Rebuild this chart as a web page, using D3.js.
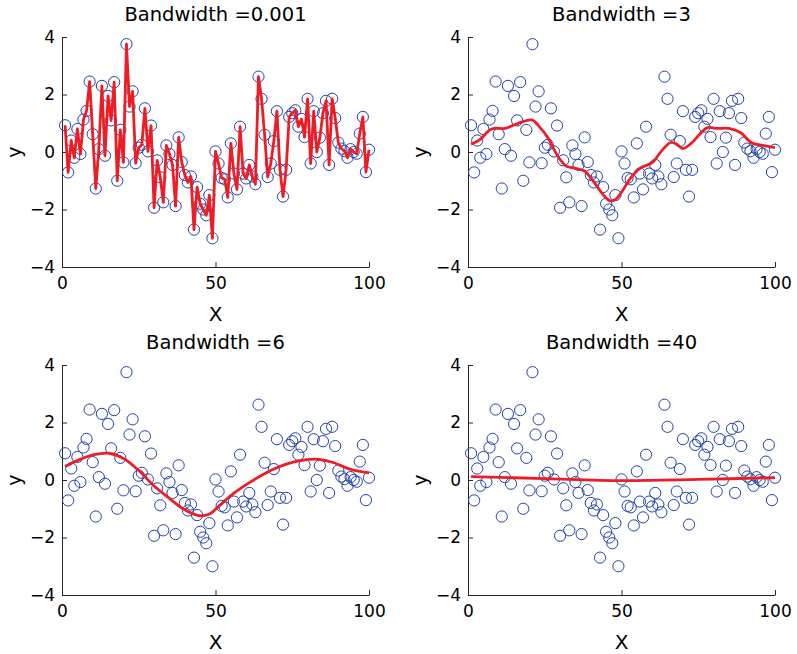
<!DOCTYPE html>
<html>
<head>
<meta charset="utf-8">
<script src="https://cdn.jsdelivr.net/npm/d3@7"></script>
<style>
  html, body { margin: 0; padding: 0; background: #fff; }
  svg { display: block; font-family: "DejaVu Sans", "Open Sans", sans-serif; }
</style>
</head>
<body>
<svg id="chart" width="797" height="654"></svg>
<script>
// ---- Data ----
const titles = ["Bandwidth =0.001", "Bandwidth =3", "Bandwidth =6", "Bandwidth =40"];
const xTicks = [0, 50, 100];
const yTicks = [-4, -2, 0, 2, 4];

// observations at x = 1..100
const yValues = [
  0.93, -0.71, 0.40, -0.20, 0.80, -0.07, 1.13, 1.43, 2.45, 0.62,
  -1.27, 0.10, 2.30, -0.13, 1.95, 1.10, 2.43, -1.00, 0.77, -0.36,
  3.75, 1.58, 2.11, -0.39, 0.15, 0.25, 1.52, 0.02, 0.92, -1.94,
  -0.29, -0.88, -1.75, 0.23, -0.07, -0.45, -1.88, 0.51, -0.35, -0.80,
  -1.06, -0.85, -2.70, -1.22, -1.80, -2.00, -2.20, -1.50, -3.00, 0.02,
  -0.40, -0.90, -0.95, -1.58, 0.30, -0.75, -1.30, 0.88, -0.75, -0.92,
  -0.45, -0.85, -1.12, 2.62, 1.85, 0.60, -0.87, -0.40, 0.38, 1.42,
  -0.62, -1.55, -0.62, 1.22, 1.35, 1.45, 0.88, 1.15, 0.52, 1.85,
  -0.40, 1.42, 0.00, 0.50, 1.35, 1.78, -0.45, 1.85, 1.18, 0.33,
  0.12, 0.03, -0.20, 0.10, 0.00, -0.06, 0.64, 1.22, -0.70, 0.08
];

// smoothed curves
const bw3X = [1, 4, 7, 9, 12, 15, 18, 21, 23, 26, 28, 30, 32, 35, 38, 40, 42, 44, 46, 48, 50, 53, 56, 60, 63, 66, 68, 70, 73, 76, 78, 81, 85, 89, 91, 93, 96, 100];
const bw3Y = [0.27, 0.44, 0.76, 0.83, 0.82, 0.94, 1.06, 1.11, 0.91, 0.50, 0.09, -0.26, -0.49, -0.57, -0.66, -0.90, -1.19, -1.48, -1.69, -1.65, -1.40, -0.90, -0.57, -0.37, 0.03, 0.33, 0.27, 0.12, 0.33, 0.68, 0.85, 0.82, 0.82, 0.66, 0.44, 0.29, 0.23, 0.15];

const bw6X = [1, 5.5, 10.4, 15.3, 20.2, 25.1, 30, 34.9, 39.7, 44.6, 47.9, 51.1, 56, 60.9, 65.8, 70.7, 75.6, 80.5, 83.7, 88.6, 93.5, 100];
const bw6Y = [0.47, 0.70, 0.88, 0.93, 0.74, 0.32, -0.21, -0.63, -1.02, -1.24, -1.19, -0.91, -0.46, -0.10, 0.21, 0.46, 0.63, 0.72, 0.72, 0.60, 0.39, 0.25];

const bw40X = [1, 25, 50, 75, 100];
const bw40Y = [0.12, 0.05, -0.02, 0.02, 0.08];

// ---- Drawing ----
const svg = d3.select("#chart");
const points = yValues.map((v, i) => ({ x: i + 1, y: v }));
const curves = [
  points,
  bw3X.map((x, i) => ({ x, y: bw3Y[i] })),
  bw6X.map((x, i) => ({ x, y: bw6Y[i] })),
  bw40X.map((x, i) => ({ x, y: bw40Y[i] }))
];

const layout = [
  { left: 62, top: 37 },
  { left: 468, top: 37 },
  { left: 62, top: 365 },
  { left: 468, top: 365 }
];
const pw = 307, ph = 230;
const axisColor = "#262626";
const circleColor = "#2242a8";
const lineColor = "#ee1d25";
const font = "'DejaVu Sans', sans-serif";

layout.forEach((p, k) => {
  const x = d3.scaleLinear().domain([0, 100]).range([p.left, p.left + pw]);
  const y = d3.scaleLinear().domain([-4, 4]).range([p.top + ph, p.top]);
  const g = svg.append("g");

  // axes
  const ax = g.append("g")
    .attr("transform", `translate(0,${p.top + ph})`)
    .call(d3.axisBottom(x).tickValues(xTicks).tickSizeInner(-5).tickSizeOuter(0).tickPadding(10));
  const ay = g.append("g")
    .attr("transform", `translate(${p.left},0)`)
    .call(d3.axisLeft(y).tickValues(yTicks).tickSizeInner(-5).tickSizeOuter(0).tickPadding(7));
  [ax, ay].forEach(a => {
    a.select(".domain").attr("stroke", axisColor).attr("stroke-width", 1);
    a.selectAll(".tick line").attr("stroke", axisColor);
    a.selectAll(".tick text").attr("fill", "#000").style("font-size", "17px")
      .style("font-family", font);
  });

  // points
  g.append("g").selectAll("circle").data(points).join("circle")
    .attr("cx", d => x(d.x)).attr("cy", d => y(d.y)).attr("r", 5.6)
    .attr("fill", "none").attr("stroke", circleColor).attr("stroke-width", 1);

  // regression line
  const line = d3.line().x(d => x(d.x)).y(d => y(d.y));
  if (k > 0) line.curve(d3.curveCatmullRom.alpha(0.5));
  g.append("path").datum(curves[k]).attr("d", line)
    .attr("fill", "none").attr("stroke", lineColor).attr("stroke-width", 2.8)
    .attr("stroke-linejoin", "round");

  // title
  g.append("text").attr("x", p.left + pw / 2).attr("y", p.top - 16)
    .attr("text-anchor", "middle").style("font-size", "19.5px").attr("fill", "#000")
    .style("font-family", font).text(titles[k]);
  // x label
  g.append("text").attr("x", p.left + pw / 2).attr("y", p.top + ph + 54)
    .attr("text-anchor", "middle").style("font-size", "20px").attr("fill", "#000")
    .style("font-family", font).text("X");
  // y label
  g.append("text")
    .attr("transform", `translate(${p.left - 41},${p.top + ph / 2}) rotate(-90)`)
    .attr("text-anchor", "middle").style("font-size", "19px").attr("fill", "#000")
    .style("font-family", font).text("y");
});
</script>
</body>
</html>
